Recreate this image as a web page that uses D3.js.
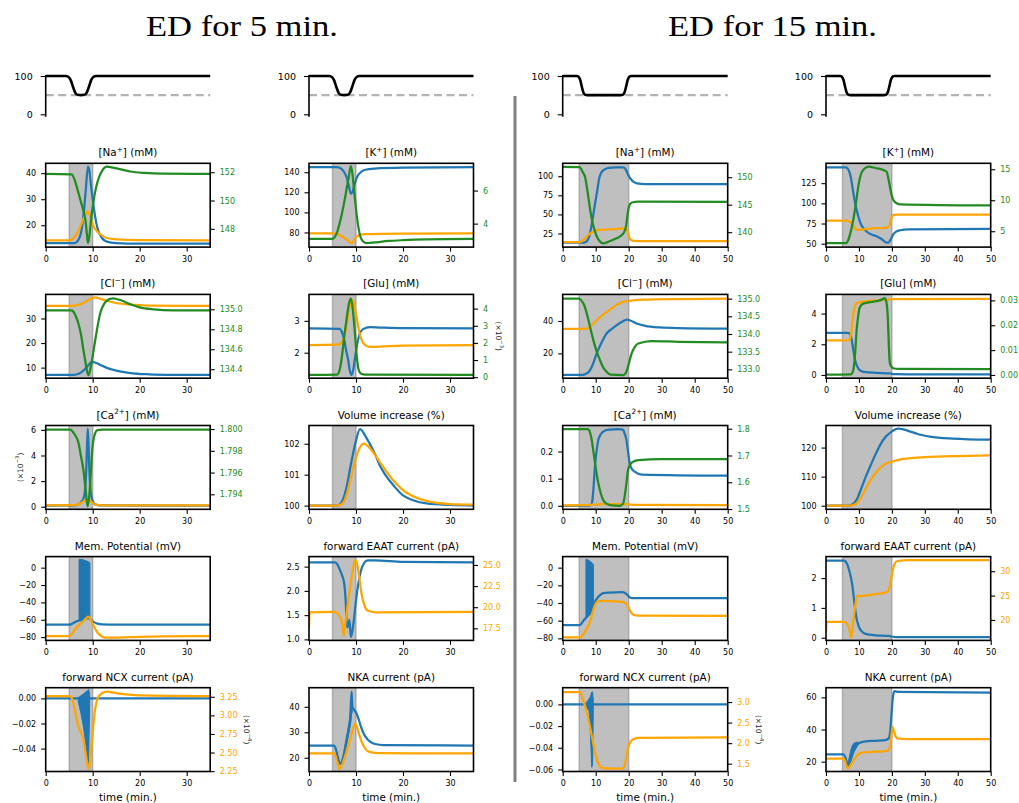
<!DOCTYPE html>
<html><head><meta charset="utf-8">
<script src="https://cdn.jsdelivr.net/npm/d3@7"></script>
<style>body{margin:0;background:#fff}</style>
</head><body>
<script>
// ---------------- DATA (time in min.) ----------------
const thresholdLevel = 50;
const pulse5 = [[0,100],[4.3,100],[4.8,98],[5.3,90],[5.8,72],[6.3,56],[6.8,51],[7.5,50],[8.2,51],[8.7,56],[9.2,72],[9.7,90],[10.2,98],[10.7,100],[35,100]];
const pulse15 = [[0,100],[4.3,100],[4.8,98],[5.3,90],[5.8,72],[6.3,56],[6.8,51],[7.4,50],[17.6,50],[18.2,51],[18.7,56],[19.2,72],[19.7,90],[20.2,98],[20.7,100],[50,100]];

// [Na+]
const naBlue5 = [[0,13.1],[6,13.1],[6.5,13.4],[7,14.5],[7.5,17],[8,23],[8.5,33],[9,42.5],[9.3,41],[9.6,36],[10,30],[10.5,23.5],[11,19],[11.5,16.5],[12,15],[13,13.7],[15,13.1],[20,12.9],[35,12.9]];
const naOrange5 = [[0,14.2],[5,14.2],[5.5,14.5],[6,15.2],[7,18],[8,22.3],[8.5,24.3],[8.9,25.3],[9.3,24.2],[9.7,21.8],[10.2,19.5],[11,17.5],[12,16],[13,15.1],[15,14.6],[20,14.3],[35,14.2]];
const naGreen5 = [[0,151.88],[5.5,151.85],[6,151.6],[6.5,151.1],[7,150.5],[7.5,149.9],[8,149.3],[8.5,148.5],[8.8,147.5],[9,147.0],[9.3,147.5],[9.7,148.8],[10.2,150.0],[10.7,150.9],[11.3,151.6],[12,152.1],[13,152.39],[14,152.35],[16,152.2],[18,152.05],[21,151.95],[25,151.9],[35,151.88]];
const naBlue15 = [[0,12.9],[6,13],[7,14],[7.5,16],[8,21],[8.5,30],[9,42],[9.5,56],[10,69],[10.5,82],[11,96],[11.5,103],[12,106.5],[13,109.5],[14,110.8],[16,111.5],[18,111.5],[18.7,111],[19.2,108],[19.7,103],[20.2,99],[20.7,96],[21.5,92.5],[22.5,90.6],[25,89.8],[50,89.5]];
const naOrange15 = [[0,13.7],[5,13.7],[5.5,14.2],[6,15.5],[7,19.5],[8,24],[9,27],[10,28.8],[11,29.6],[13,30.1],[15,30.6],[17,31.2],[18.5,31.8],[19.3,31.6],[19.8,26],[20.2,19.5],[20.7,16.5],[21.5,15.5],[25,15.1],[50,15]];
const naGreen15 = [[0,151.86],[5,151.84],[5.5,151.6],[6,151],[6.8,150],[7.5,147.5],[8.3,144.2],[9,141.8],[9.8,140.1],[10.5,139.0],[11.5,138.2],[12.3,137.96],[14,138.3],[16,138.8],[17.5,139.3],[18.5,139.9],[19.2,141.1],[19.7,143.4],[20.2,144.9],[21,145.4],[23,145.55],[50,145.5]];

// [K+]
const kBlue5 = [[0,145],[6,145],[6.5,144.5],[7,143],[7.5,140],[8,135],[8.5,126],[8.9,118.5],[9.3,121],[9.7,128],[10.2,135],[11,140],[12,142.5],[14,143.6],[20,144.5],[35,145]];
const kOrange5 = [[0,79],[5.5,79],[6,78.5],[6.5,77.5],[7,76],[7.5,74.5],[8,73],[8.5,71],[8.9,69.5],[9.3,70],[9.7,73],[10.2,76],[11,77.8],[12,78.3],[15,78.7],[35,79]];
const kGreen5 = [[0,3.08],[5,3.08],[5.5,3.2],[6,3.5],[6.5,4.0],[7,4.6],[7.5,5.3],[8,6.1],[8.5,6.9],[8.9,7.48],[9.2,7.1],[9.6,6.0],[10,4.9],[10.5,3.8],[11,3.15],[11.7,2.88],[12.5,2.82],[14,2.86],[17,2.95],[20,3.0],[25,3.05],[35,3.08]];
const kBlue15 = [[0,144.7],[6,144.6],[6.5,143.5],[7,140],[7.5,133],[8.3,113],[9,97],[9.8,84],[10.5,75],[11.3,69.6],[12.5,64.5],[14,61],[15.5,59],[17,55.5],[18.4,51.2],[19,51.5],[19.6,55],[20.4,61.4],[21.3,65],[22.5,66.7],[25,67.8],[50,68.4]];
const kOrange15 = [[0,78.6],[6.5,78.5],[7.3,77],[8,73.5],[8.8,69],[9.8,67],[11,67.5],[13,68.5],[15,69.2],[18.4,69.8],[19.1,71],[19.6,78],[20.1,84],[20.7,85.7],[22,86],[50,86]];
const kGreen15 = [[0,3.07],[6,3.08],[6.6,3.4],[7.3,4.5],[8.3,6.9],[9,9.2],[9.8,12.2],[10.5,14.0],[11.3,14.9],[12.9,15.42],[15,15.2],[17,14.95],[18.4,14.6],[18.9,13.6],[19.4,12.2],[19.9,10.9],[20.4,10.1],[21.2,9.6],[22.5,9.35],[50,9.17]];

// [Cl-]
const clBlue5 = [[0,7.05],[6,7.1],[7,7.5],[8,8.8],[9,10.8],[9.8,12.3],[10.5,12.1],[11.5,11.2],[13,9.9],[15,8.8],[18,7.8],[22,7.3],[27,7.1],[35,7.05]];
const clOrange5 = [[0,35.1],[5,35.1],[6,35.2],[7,35.6],[8,36.3],[9,37.4],[10,38.4],[10.5,38.6],[11.5,38.1],[13,37.2],[15,36.3],[18,35.6],[22,35.25],[35,35.1]];
const clGreen5 = [[0,134.99],[5.5,134.99],[6,134.97],[6.5,134.92],[7,134.85],[7.5,134.75],[8,134.6],[8.5,134.46],[8.8,134.38],[9.1,134.34],[9.5,134.4],[10,134.53],[10.5,134.68],[11,134.82],[11.6,134.96],[12.5,135.06],[13.5,135.1],[14.4,135.11],[16,135.09],[18,135.05],[20,135.02],[23,135.0],[27,134.99],[35,134.99]];
const clBlue15 = [[0,6.7],[6,6.75],[7,7.3],[8,8.8],[9,12.5],[10.3,20],[11.5,25.5],[13.3,32.3],[15,35.3],[16.4,37.4],[18,39.5],[19.5,40.9],[20.5,40.3],[22.4,38.4],[25,37],[29.5,36],[35,35.6],[50,35.3]];
const clOrange15 = [[0,35.1],[6.5,35.1],[7.3,35.3],[8.3,36.5],[9.3,38.4],[11,41.8],[13.3,45.5],[15,48],[16.4,50.1],[18,51.5],[19.9,52.3],[22,52.8],[24.5,53.1],[35,53.5],[50,53.8]];
const clGreen15 = [[0,135.0],[5,135.0],[5.6,134.95],[6.5,134.82],[7.3,134.58],[8.3,134.2],[9.3,133.82],[10.3,133.5],[11.3,133.26],[12.3,133.05],[13.3,132.93],[14.5,132.85],[18.4,132.84],[19.3,132.93],[20,133.15],[20.9,133.45],[21.8,133.63],[22.9,133.73],[26.9,133.8],[35,133.78],[50,133.76]];

// [Glu]  (green of the 5-min. case in units of 1e-3 mM)
const gluBlue5 = [[0,2.76],[6.5,2.75],[7,2.65],[7.5,2.4],[7.8,2.15],[8,2.0],[8.3,1.8],[8.6,1.5],[9,1.3],[9.4,1.45],[9.8,1.85],[10.3,2.3],[10.8,2.6],[11.5,2.74],[13,2.8],[15,2.79],[20,2.77],[35,2.76]];
const gluOrange5 = [[0,2.24],[6,2.25],[7,2.33],[7.5,2.5],[8,2.85],[8.5,3.35],[9,3.62],[9.3,3.66],[9.7,3.45],[10.2,3.05],[10.7,2.65],[11.2,2.4],[12,2.23],[13,2.18],[15,2.19],[20,2.22],[35,2.24]];
const gluGreen5 = [[0,0.13],[6,0.15],[6.5,0.4],[7,1.2],[7.5,2.4],[8,3.4],[8.5,4.3],[8.9,4.6],[9.3,4.0],[9.7,2.8],[10.1,1.4],[10.5,0.5],[11,0.22],[12,0.15],[35,0.13]];
const gluBlue15 = [[0,2.74],[6.5,2.74],[7.2,2.7],[7.7,2.4],[8.3,1.61],[8.8,1.0],[9.3,0.64],[10.3,0.31],[12,0.18],[15.3,0.14],[19.5,0.1],[20.5,0.05],[25,0.04],[50,0.04]];
const gluOrange15 = [[0,2.26],[6.5,2.26],[7.2,2.32],[7.6,2.7],[8,3.4],[8.4,4.1],[8.9,4.55],[9.5,4.7],[12,4.8],[16,4.86],[19,4.9],[20.5,4.95],[50,4.96]];
const gluGreen15 = [[0,0.0001],[7.5,0.0002],[8.3,0.002],[8.8,0.008],[9.3,0.018],[9.8,0.024],[10.3,0.0273],[11.3,0.0287],[13,0.0292],[15.3,0.0297],[17,0.0303],[17.8,0.0309],[18.3,0.0295],[18.8,0.022],[19.1,0.011],[19.4,0.0047],[20.4,0.0027],[22,0.0024],[50,0.0023]];

// [Ca2+]  (blue/orange of the 5-min. case in units of 1e-3 mM)
const caBlue5 = [[0,0.08],[6,0.1],[7,0.2],[7.5,0.35],[8,0.6],[8.3,1.1],[8.6,2.6],[8.8,4.8],[8.95,6.1],[9.1,5.0],[9.3,2.8],[9.6,1.1],[10,0.45],[10.5,0.2],[11.5,0.1],[35,0.08]];
const caOrange5 = [[0,0.1],[6,0.12],[7,0.2],[8,0.4],[8.7,0.62],[9.2,0.55],[9.8,0.35],[10.5,0.18],[12,0.11],[35,0.1]];
const caGreen5 = [[0,1.79995],[5.2,1.79994],[6,1.7996],[7,1.7987],[7.5,1.7975],[8,1.7963],[8.5,1.7944],[8.9,1.7929],[9.3,1.7940],[9.6,1.7960],[10,1.7985],[10.5,1.7996],[11,1.79990],[12,1.79995],[35,1.79995]];
const caBlue15 = [[0,0],[8,0.0005],[8.5,0.003],[8.9,0.012],[9.3,0.06],[9.8,0.15],[10.3,0.205],[10.8,0.243],[11.5,0.263],[12.3,0.274],[14,0.281],[17,0.283],[18.3,0.28],[18.8,0.265],[19.3,0.243],[19.8,0.2],[20.3,0.157],[21,0.135],[21.8,0.126],[24,0.115],[50,0.111]];
const caOrange15 = [[0,0.0015],[7,0.002],[9,0.004],[12,0.006],[18,0.006],[20,0.005],[22,0.003],[50,0.002]];
const caGreen15 = [[0,1.7985],[7.5,1.798],[8,1.795],[8.4,1.78],[8.8,1.758],[9.3,1.715],[9.8,1.671],[10.3,1.63],[10.8,1.596],[11.5,1.56],[12.3,1.533],[13.3,1.52],[14.3,1.515],[17.3,1.512],[18.3,1.52],[18.8,1.55],[19.3,1.596],[19.8,1.646],[20.4,1.665],[20.9,1.673],[22.9,1.683],[30,1.686],[50,1.686]];

// Volume increase (%)
const volBlue5 = [[0,100],[6,100],[7,100.12],[8,100.6],[9,101.4],[10,102.1],[10.85,102.47],[12,102.25],[13,101.98],[14,101.68],[15,101.32],[16,101.05],[18,100.65],[20,100.33],[25,100.07],[30,100.02],[35,100]];
const volOrange5 = [[0,100],[6,100],[7,100.05],[8,100.35],[9,100.95],[10,101.55],[11,101.92],[11.6,102.0],[13,101.85],[14,101.65],[15,101.42],[16,101.2],[18,100.8],[20,100.5],[25,100.15],[30,100.05],[35,100.03]];
const volBlue15 = [[0,100],[7,100],[8,100.4],[9.3,102],[10.3,104.7],[11.3,107.7],[12.3,110.6],[13.4,113.5],[15.4,118.6],[17.4,122.7],[19.9,125.5],[21.9,126.5],[23.5,126.3],[25.4,125.6],[28,124.6],[31.5,123.8],[38.5,123.1],[50,122.7]];
const volOrange15 = [[0,100],[7,100],[8,100.15],[9.3,100.8],[10.3,102.3],[11.3,104.2],[12.3,106.3],[13.4,108.6],[15.4,111.8],[17.9,114.3],[20,115.1],[22,115.8],[25,116.3],[30,116.7],[40,117.1],[50,117.3]];

// Mem. Potential (mV); bursts: [t, low, high] envelope of the spiking
const memBlue5 = [[0,-65.5],[5,-65.5],[5.5,-65],[6,-63.5],[6.5,-62],[7,-61],[7.5,-60.5],[8,-59.5],[8.5,-59],[9,-58],[9.3,-58.5],[9.7,-60.5],[10.2,-62.5],[11,-64.5],[12,-65.3],[15,-65.5],[35,-65.5]];
const memBurst5 = [[7.1,-60.8,9.7],[7.5,-60.5,9.5],[8,-59.5,9],[8.5,-59,8],[9,-58,7],[9.4,-58.5,5.5]];
const memOrange5 = [[0,-78.8],[5,-78.8],[5.5,-76.5],[6,-73],[6.5,-69.5],[7,-66.5],[7.5,-64],[8,-61.5],[8.5,-59],[9,-56.5],[9.3,-57.5],[9.7,-61],[10.2,-67],[10.8,-73],[11.5,-77.5],[12.2,-80],[13,-80.7],[15,-80.5],[20,-79.6],[25,-79.1],[35,-78.8]];
const memBlue15 = [[0,-65],[5,-65],[5.5,-64],[6,-61.5],[6.5,-59],[7,-57],[7.5,-55],[8,-53],[8.5,-50],[9,-46],[9.3,-43],[10,-37],[10.8,-33],[11.5,-30.5],[12.3,-28.8],[14,-28.2],[18,-27.8],[18.8,-28.5],[19.5,-30.5],[20.5,-34],[21.5,-34.6],[50,-34.5]];
const memBurst15 = [[7.05,-57,9.5],[7.5,-55,9],[8,-53,8],[8.5,-50,6.5],[9,-46,5],[9.3,-43,3]];
const memOrange15 = [[0,-79],[5,-79],[5.5,-78.5],[6,-76.5],[7,-71],[8,-64],[8.5,-58.5],[9,-51.5],[9.5,-45],[10,-40.5],[10.5,-38.5],[11.5,-37.6],[14,-37.8],[17,-38.4],[18.5,-39.2],[19.3,-41],[20,-45.5],[20.7,-50.5],[21.5,-53.3],[23,-54.3],[50,-54.5]];

// forward EAAT current (pA)
const eaatBlue5 = [[0,2.59],[5.5,2.59],[6,2.55],[6.5,2.45],[7,2.33],[7.5,2.15],[7.8,1.8],[8.1,1.25],[8.4,1.3],[8.6,1.4],[8.9,1.05],[9.2,1.15],[9.6,1.45],[10,1.8],[10.5,2.15],[11,2.4],[11.7,2.57],[12.5,2.63],[14,2.63],[20,2.6],[35,2.59]];
const eaatOrange5 = [[0,17.6],[0.15,19.4],[5,19.44],[6,19.3],[6.5,18.9],[7,18.3],[7.2,17.7],[7.4,16.6],[7.6,17.5],[8,19.3],[8.4,21],[8.8,22.5],[9.2,24],[9.8,25.6],[10.2,25.2],[10.7,23.5],[11.2,21.5],[11.8,20.2],[12.5,19.6],[14,19.4],[35,19.45]];
const eaatBlue15 = [[0,2.585],[5.5,2.585],[6,2.55],[6.5,2.45],[7,2.27],[7.5,2.05],[8,1.75],[8.3,1.49],[8.7,1.1],[9.2,0.7],[9.6,0.5],[10,0.36],[10.8,0.22],[12,0.13],[15,0.08],[19,0.06],[20,0.04],[21,0.02],[50,0.02]];
const eaatOrange15 = [[0,17.5],[0.15,19.6],[5.5,19.6],[6,19.5],[6.5,19.1],[7,18.2],[7.3,17.3],[7.6,16.4],[7.9,17.5],[8.3,19.8],[8.8,22.5],[9.2,24.3],[9.6,25.0],[10.5,24.9],[13,25.1],[16,25.4],[18.5,25.7],[19.2,26.5],[19.7,28],[20.2,30],[20.8,31.5],[21.7,32.1],[25,32.3],[50,32.3]];

// forward NCX current (pA); orange in units of 1e-4
const ncxBlue5 = [[0,0],[35,0]];
const ncxBurst5 = [[6.9,-0.002,0.0005],[7.5,-0.012,0.002],[8,-0.022,0.0035],[8.5,-0.035,0.005],[9.0,-0.054,0.0065],[9.15,-0.045,0.007],[9.35,-0.004,0.003]];
const ncxOrange5 = [[0,3.26],[5,3.26],[5.5,3.24],[6,3.13],[6.5,2.98],[7,2.85],[7.4,2.78],[7.8,2.73],[8.2,2.6],[8.6,2.45],[9.0,2.3],[9.2,2.28],[9.5,2.42],[10,2.78],[10.5,3.07],[11,3.22],[12,3.3],[13,3.32],[15,3.3],[20,3.27],[35,3.26]];
const ncxBlue15 = [[0,0],[50,0]];
const ncxBurst15 = [[6.9,-0.002,0.001],[7.5,-0.004,0.003],[8.0,-0.006,0.005],[8.2,-0.015,0.006],[8.5,-0.035,0.008],[8.8,-0.058,0.0115],[9.05,-0.055,0.0115],[9.25,-0.01,0.004]];
const ncxOrange15 = [[0,3.24],[5.3,3.24],[5.8,3.15],[6.3,3.02],[7,2.85],[8,2.5],[9,2.1],[10,1.7],[10.8,1.5],[12,1.4],[15,1.38],[18,1.38],[18.6,1.42],[19.2,1.62],[19.8,1.88],[20.5,2.03],[21.5,2.1],[23,2.13],[50,2.14]];

// NKA current (pA)
const nkaBlue5 = [[0,24.8],[5.3,24.8],[5.7,23.5],[6.1,20.5],[6.6,17.6],[7,18.5],[7.5,22],[8,26.5],[8.5,31.5],[8.8,36],[9.05,46],[9.25,40],[9.6,38.8],[10,37.8],[10.5,35.5],[11,32.5],[11.5,30],[12,28.3],[13,26.3],[14,25.4],[16,25],[35,24.8]];
const nkaBurst5 = [[7.5,21.5,23.5],[8,25.5,28.5],[8.5,30,33.5],[8.9,34,40],[9.05,37,46],[9.2,38,41]];
const nkaOrange5 = [[0,21.7],[5.3,21.7],[5.7,20.5],[6,18.5],[6.4,15.7],[6.8,16.3],[7.3,18.5],[8,22.5],[8.5,25.5],[9,29],[9.5,32.3],[9.8,33.3],[10.2,32],[10.7,29],[11.2,26.2],[12,23.5],[13,22.2],[15,21.8],[35,21.7]];
const nkaBlue15 = [[0,24.6],[5.3,24.6],[5.8,23],[6.3,20],[6.8,17.7],[7.3,21],[7.8,25],[8.3,27.8],[9,30],[10,31.5],[12,32.6],[15,33],[18,33.4],[19,34.5],[19.5,39],[19.9,50],[20.3,60],[20.8,63.8],[22,63.4],[50,63]];
const nkaBurst15 = [[6.9,18,21],[7.5,20,27],[8,23,30],[8.5,26,31.5],[9,28,32],[9.5,29.5,32.2],[9.8,31,32]];
const nkaOrange15 = [[0,21.9],[5.3,21.9],[5.8,20.5],[6.2,17.5],[6.6,15.7],[7.1,16.8],[7.8,19],[8.5,21.5],[9.5,24],[10.5,25.3],[12,25.9],[15,26.2],[18,26.5],[19,27.2],[19.5,30],[19.9,37],[20.2,41.5],[20.6,39],[21.2,35.5],[22,34.3],[25,34],[50,34]];

const colTitles = ["ED for 5 min.", "ED for 15 min."];
const xTicks35 = [0,10,20,30];
const xTicks50 = [0,10,20,30,40,50];
const edWindow5 = [5,10];
const edWindow15 = [5,20];

// ---------------- DRAWING ----------------
const BLUE='#1f77b4', ORANGE='#ffa500', GREEN='#228b22';
const FONT='DejaVu Sans, sans-serif';
const svg = d3.select('body').append('svg').attr('width',1019).attr('height',803)
  .style('font-family',FONT).style('display','block');
const defs = svg.append('defs');

const colX = [[45.7,210.2],[309,473.5],[562.7,727.7],[826,990.7]];
const colCfg = [
  {xMax:35, ticks:xTicks35, shade:edWindow5, pulse:pulse5},
  {xMax:35, ticks:xTicks35, shade:edWindow5, pulse:pulse5},
  {xMax:50, ticks:xTicks50, shade:edWindow15, pulse:pulse15},
  {xMax:50, ticks:xTicks50, shade:edWindow15, pulse:pulse15}];
const rowTop = [163.3,294.4,425.5,556.6,687.7];
const plotH = 83.8;

function rich(textSel, parts, fs){
  parts.forEach(([s,k])=>{
    if(k==='sup'){
      textSel.append('tspan').attr('dy',-0.4*fs).attr('font-size',fs*0.7).text(s);
    } else if(k==='after'){
      textSel.append('tspan').attr('dy',0.4*fs).text(s);
    } else textSel.append('tspan').text(s);
  });
}
const sup = (a,b,c)=>[[a,'n'],[b,'sup'],[c,'after']];

// column titles + separator
[[242,colTitles[0],192],[772.5,colTitles[1],209]].forEach(([cx,t,w])=>{
  svg.append('text').attr('x',cx).attr('y',36).attr('text-anchor','middle')
    .attr('font-family','Liberation Serif, Times New Roman, serif').attr('font-size',30)
    .attr('textLength',w).attr('lengthAdjust','spacingAndGlyphs').attr('fill','#000').text(t);
});
svg.append('line').attr('x1',515).attr('x2',515).attr('y1',96).attr('y2',782)
  .attr('stroke','#808080').attr('stroke-width',3);

// top row: ED protocol
colCfg.forEach((c,ci)=>{
  const [x0,x1]=colX[ci];
  const x=d3.scaleLinear().domain([0,c.xMax]).range([x0,x1]);
  const y=d3.scaleLinear().domain([-6.3,102.6]).range([116.7,75]);
  const ln=d3.line().x(d=>x(d[0])).y(d=>y(d[1]));
  svg.append('path').datum([[0,thresholdLevel],[c.xMax,thresholdLevel]]).attr('d',ln)
    .attr('fill','none').attr('stroke','#b3b3b3').attr('stroke-width',2.2).attr('stroke-dasharray','8,4.5');
  svg.append('path').datum(c.pulse).attr('d',ln.curve(d3.curveMonotoneX))
    .attr('fill','none').attr('stroke','#000').attr('stroke-width',2.6);
  const ax=svg.append('g').attr('transform',`translate(${x0},0)`)
    .call(d3.axisLeft(y).tickValues([0,100]).tickSize(5).tickPadding(8).tickFormat(d3.format('d')));
  ax.select('.domain').remove();
  ax.selectAll('text').attr('font-size',9.5).attr('font-family',FONT).attr('fill','#000');
  ax.selectAll('line').attr('stroke','#000').attr('stroke-width',1.1);
  svg.append('line').attr('x1',x0).attr('x2',x0).attr('y1',75).attr('y2',116.7).attr('stroke','#000').attr('stroke-width',1.6);
});

function drawPanel(p){
  const c=colCfg[p.col];
  const [x0,x1]=colX[p.col];
  const y0=rowTop[p.row], y1=y0+plotH;
  const x=d3.scaleLinear().domain([0,c.xMax]).range([x0,x1]);
  const yL=d3.scaleLinear().domain(p.left.domain).range([y1,y0]);
  const yR=p.right?d3.scaleLinear().domain(p.right.domain).range([y1,y0]):null;
  const cid=`clip_${p.col}_${p.row}`;
  defs.append('clipPath').attr('id',cid).append('rect')
    .attr('x',x0).attr('y',y0).attr('width',x1-x0).attr('height',y1-y0);
  const g=svg.append('g');
  const inner=g.append('g').attr('clip-path',`url(#${cid})`);
  inner.append('rect').attr('x',x(c.shade[0])).attr('y',y0-1)
    .attr('width',x(c.shade[1])-x(c.shade[0])).attr('height',plotH+2)
    .attr('fill','rgba(128,128,128,0.5)').attr('stroke','rgba(128,128,128,0.5)').attr('stroke-width',1.5);
  p.series.forEach(s=>{
    const yy = s.axis==='R'?yR:yL;
    if(s.band){
      const ar=d3.area().x(d=>x(d[0])).y0(d=>yy(d[1])).y1(d=>yy(d[2]));
      inner.append('path').datum(s.data).attr('d',ar).attr('fill',s.color)
        .attr('stroke',s.color).attr('stroke-width',1);
    } else {
      const ln=d3.line().x(d=>x(d[0])).y(d=>yy(d[1])).curve(d3.curveMonotoneX);
      inner.append('path').datum(s.data).attr('d',ln).attr('fill','none')
        .attr('stroke',s.color).attr('stroke-width',2.25).attr('stroke-linejoin','round');
    }
  });
  const style=(ax,color)=>{
    ax.select('.domain').remove();
    ax.selectAll('text').attr('font-size',8).attr('font-family',FONT).attr('fill',color||'#000');
    ax.selectAll('line').attr('stroke','#000').attr('stroke-width',1.1);
  };
  const axB=g.append('g').attr('transform',`translate(0,${y1})`)
    .call(d3.axisBottom(x).tickValues(c.ticks).tickSize(4.5).tickPadding(4.3).tickFormat(d3.format('d')));
  style(axB);
  const axL=g.append('g').attr('transform',`translate(${x0},0)`)
    .call(d3.axisLeft(yL).tickValues(p.left.ticks).tickSize(4.5).tickPadding(5).tickFormat(d3.format(p.left.fmt)));
  style(axL);
  if(p.right){
    const axR=g.append('g').attr('transform',`translate(${x1},0)`)
      .call(d3.axisRight(yR).tickValues(p.right.ticks).tickSize(4.5).tickPadding(5).tickFormat(d3.format(p.right.fmt)));
    style(axR,p.right.color);
  }
  g.append('rect').attr('x',x0).attr('y',y0).attr('width',x1-x0).attr('height',plotH)
    .attr('fill','none').attr('stroke','#000').attr('stroke-width',1.6);
  const t=g.append('text').attr('x',(x0+x1)/2).attr('y',y0-7).attr('text-anchor','middle')
    .attr('font-size',10.4).attr('fill','#000');
  rich(t,p.title,10.4);
  if(p.note){
    const cx = p.note.side==='L' ? x0-25.7 : x1+p.note.dx;
    const ang = p.note.side==='L' ? -90 : 90;
    const nt=g.append('text').attr('transform',`translate(${cx},${(y0+y1)/2}) rotate(${ang})`)
      .attr('text-anchor','middle').attr('dominant-baseline','central').attr('font-size',7.5).attr('fill','#222');
    rich(nt,sup('(×10',p.note.exp,')'),7.5);
  }
  if(p.row===4){
    g.append('text').attr('x',(x0+x1)/2).attr('y',801).attr('text-anchor','middle')
      .attr('font-size',10.4).attr('fill','#000').text('time (min.)');
  }
}

const L=(data,color)=>({data,color,axis:'L'});
const R=(data,color)=>({data,color,axis:'R'});
const B=(data,color,axis)=>({data,color,axis:axis||'L',band:true});

const panels=[
  {col:0,row:0,title:sup('[Na','+','] (mM)'),left:{domain:[11.6,43.8],ticks:[20,30,40],fmt:'d'},
   right:{domain:[146.71,152.63],ticks:[148,150,152],fmt:'d',color:GREEN},
   series:[L(naBlue5,BLUE),L(naOrange5,ORANGE),R(naGreen5,GREEN)]},
  {col:1,row:0,title:sup('[K','+','] (mM)'),left:{domain:[65.4,148.9],ticks:[80,100,120,140],fmt:'d'},
   right:{domain:[2.58,7.65],ticks:[4,6],fmt:'d',color:GREEN},
   series:[L(kBlue5,BLUE),L(kOrange5,ORANGE),R(kGreen5,GREEN)]},
  {col:2,row:0,title:sup('[Na','+','] (mM)'),left:{domain:[7.2,116.9],ticks:[25,50,75,100],fmt:'d'},
   right:{domain:[137.29,152.53],ticks:[140,145,150],fmt:'d',color:GREEN},
   series:[L(naBlue15,BLUE),L(naOrange15,ORANGE),R(naGreen15,GREEN)]},
  {col:3,row:0,title:sup('[K','+','] (mM)'),left:{domain:[45.8,149.6],ticks:[50,75,100,125],fmt:'d'},
   right:{domain:[2.44,15.96],ticks:[5,10,15],fmt:'d',color:GREEN},
   series:[L(kBlue15,BLUE),L(kOrange15,ORANGE),R(kGreen15,GREEN)]},

  {col:0,row:1,title:sup('[Cl','−','] (mM)'),left:{domain:[5.7,39.8],ticks:[10,20,30],fmt:'d'},
   right:{domain:[134.31,135.149],ticks:[134.4,134.6,134.8,135.0],fmt:'.1f',color:GREEN},
   series:[L(clBlue5,BLUE),L(clOrange5,ORANGE),R(clGreen5,GREEN)]},
  {col:1,row:1,title:[['[Glu] (mM)','n']],left:{domain:[1.2,3.83],ticks:[2,3],fmt:'d'},
   right:{domain:[-0.06,4.83],ticks:[0,1,2,3,4],fmt:'d',color:GREEN},
   note:{side:'R',dx:25.5,exp:'−3'},
   series:[L(gluBlue5,BLUE),L(gluOrange5,ORANGE),R(gluGreen5,GREEN)]},
  {col:2,row:1,title:sup('[Cl','−','] (mM)'),left:{domain:[4.7,56.4],ticks:[20,40],fmt:'d'},
   right:{domain:[132.75,135.12],ticks:[133.0,133.5,134.0,134.5,135.0],fmt:'.1f',color:GREEN},
   series:[L(clBlue15,BLUE),L(clOrange15,ORANGE),R(clGreen15,GREEN)]},
  {col:3,row:1,title:[['[Glu] (mM)','n']],left:{domain:[-0.21,5.25],ticks:[0,2,4],fmt:'d'},
   right:{domain:[-0.0013,0.0324],ticks:[0,0.01,0.02,0.03],fmt:'.2f',color:GREEN},
   series:[L(gluBlue15,BLUE),L(gluOrange15,ORANGE),R(gluGreen15,GREEN)]},

  {col:0,row:2,title:sup('[Ca','2+','] (mM)'),left:{domain:[-0.2,6.34],ticks:[0,2,4,6],fmt:'d'},
   right:{domain:[1.79262,1.80033],ticks:[1.794,1.796,1.798,1.800],fmt:'.3f',color:GREEN},
   note:{side:'L',exp:'−3'},
   series:[L(caBlue5,BLUE),L(caOrange5,ORANGE),R(caGreen5,GREEN)]},
  {col:1,row:2,title:[['Volume increase (%)','n']],left:{domain:[99.88,102.59],ticks:[100,101,102],fmt:'d'},
   series:[L(volBlue5,BLUE),L(volOrange5,ORANGE)]},
  {col:2,row:2,title:sup('[Ca','2+','] (mM)'),left:{domain:[-0.013,0.296],ticks:[0,0.1,0.2],fmt:'.1f'},
   right:{domain:[1.499,1.812],ticks:[1.5,1.6,1.7,1.8],fmt:'.1f',color:GREEN},
   series:[L(caBlue15,BLUE),L(caOrange15,ORANGE),R(caGreen15,GREEN)]},
  {col:3,row:2,title:[['Volume increase (%)','n']],left:{domain:[98.76,127.6],ticks:[100,110,120],fmt:'d'},
   series:[L(volBlue15,BLUE),L(volOrange15,ORANGE)]},

  {col:0,row:3,title:[['Mem. Potential (mV)','n']],left:{domain:[-83.8,12.75],ticks:[-80,-60,-40,-20,0],fmt:'d'},
   series:[L(memBlue5,BLUE),B(memBurst5,BLUE),L(memOrange5,ORANGE)]},
  {col:1,row:3,title:[['forward EAAT current (pA)','n']],left:{domain:[0.979,2.707],ticks:[1.0,1.5,2.0,2.5],fmt:'.1f'},
   right:{domain:[16.07,25.99],ticks:[17.5,20,22.5,25],fmt:'.1f',color:ORANGE},
   series:[L(eaatBlue5,BLUE),R(eaatOrange5,ORANGE)]},
  {col:2,row:3,title:[['Mem. Potential (mV)','n']],left:{domain:[-82.3,12.5],ticks:[-80,-60,-40,-20,0],fmt:'d'},
   series:[L(memBlue15,BLUE),B(memBurst15,BLUE),L(memOrange15,ORANGE)]},
  {col:3,row:3,title:[['forward EAAT current (pA)','n']],left:{domain:[-0.09,2.72],ticks:[0,1,2],fmt:'d'},
   right:{domain:[15.8,33.0],ticks:[20,25,30],fmt:'d',color:ORANGE},
   series:[L(eaatBlue15,BLUE),R(eaatOrange15,ORANGE)]},

  {col:0,row:4,title:[['forward NCX current (pA)','n']],left:{domain:[-0.0582,0.0085],ticks:[-0.04,-0.02,0],fmt:'.2f'},
   right:{domain:[2.245,3.372],ticks:[2.25,2.5,2.75,3.0,3.25],fmt:'.2f',color:ORANGE},
   note:{side:'R',dx:37,exp:'−4'},
   series:[L(ncxBlue5,BLUE),B(ncxBurst5,BLUE),R(ncxOrange5,ORANGE)]},
  {col:1,row:4,title:[['NKA current (pA)','n']],left:{domain:[14.6,47.5],ticks:[20,30,40],fmt:'d'},
   series:[L(nkaBlue5,BLUE),B(nkaBurst5,BLUE),L(nkaOrange5,ORANGE)]},
  {col:2,row:4,title:[['forward NCX current (pA)','n']],left:{domain:[-0.0619,0.0154],ticks:[-0.06,-0.04,-0.02,0],fmt:'.2f'},
   right:{domain:[1.31,3.35],ticks:[1.5,2.0,2.5,3.0],fmt:'.1f',color:ORANGE},
   note:{side:'R',dx:31.6,exp:'−4'},
   series:[L(ncxBlue15,BLUE),B(ncxBurst15,BLUE),R(ncxOrange15,ORANGE)]},
  {col:3,row:4,title:[['NKA current (pA)','n']],left:{domain:[13.9,66],ticks:[20,40,60],fmt:'d'},
   series:[L(nkaBlue15,BLUE),B(nkaBurst15,BLUE),L(nkaOrange15,ORANGE)]},
];
panels.forEach(drawPanel);
</script>
</body></html>
